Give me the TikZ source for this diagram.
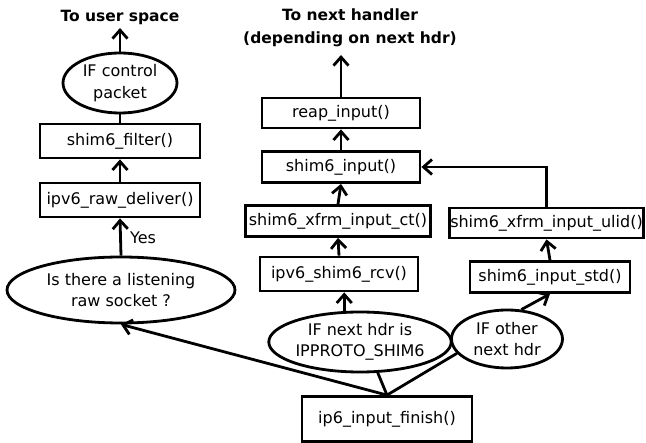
\documentclass[tikz,border=0pt]{standalone}
\usepackage{fontspec}
\setmainfont{DejaVu Sans}
\usetikzlibrary{arrows.meta,shapes.geometric}
\begin{document}
\begin{tikzpicture}[x=1pt,y=-1pt,
  line width=2.8pt,
  every node/.style={font=\fontsize{16}{21.5}\selectfont, inner sep=0pt},
  fbox/.style={draw, rectangle, align=center},
  cond/.style={draw, ellipse, align=center},
  title/.style={font=\fontsize{15.5}{23}\selectfont\bfseries, align=center},
  arr/.style={-{Straight Barb[length=8.5pt,width=15pt]}}]
\useasboundingbox (0,0) rectangle (646,443);

% left branch: raw socket delivery
\node[title] (usr) at (120,17) {To user space};
\coordinate (usrtip) at (120,28);
\node[cond, minimum width=114, minimum height=60] (ctrl) at (120,83) {IF control\\packet};
\node[fbox, minimum width=160, minimum height=34] (filt) at (120,141) {shim6\_filter()};
\node[fbox, minimum width=160, minimum height=34] (raw) at (120,200) {ipv6\_raw\_deliver()};
\node[cond, minimum width=228, minimum height=66] (q) at (121,290) {Is there a listening\\raw socket ?};
\node (yes) at (143,238) {Yes};

% middle branch: shim6 header processing
\node[title] (nxt) at (350,28) {To next handler\\(depending on next hdr)};
\coordinate (nxttip) at (341,55);
\node[fbox, minimum width=158, minimum height=30] (reap) at (341,113) {reap\_input()};
\node[fbox, minimum width=158, minimum height=31] (inp) at (341,167) {shim6\_input()};
\node[fbox, minimum width=185, minimum height=31] (ct) at (338,221) {shim6\_xfrm\_input\_ct()};
\node[fbox, minimum width=158, minimum height=34] (rcv) at (339,274) {ipv6\_shim6\_rcv()};
\node[cond, minimum width=154, minimum height=60] (ip) at (360,342) {IF next hdr is\\IPPROTO\_SHIM6};

% right branch: other next headers
\node[cond, minimum width=111, minimum height=58] (oth) at (507,339) {IF other\\next hdr};
\node[fbox, minimum width=160, minimum height=31] (std) at (550,277) {shim6\_input\_std()};
\node[fbox, minimum width=194, minimum height=30] (ulid) at (546.5,223) {shim6\_xfrm\_input\_ulid()};

% entry point
\node[fbox, minimum width=170, minimum height=45] (fin) at (387,419) {ip6\_input\_finish()};

% connectors
\draw[arr] (ctrl.north) -- (usrtip);
\draw (filt.north) -- (ctrl.south);
\draw[arr] (raw.north) -- (filt.south);
\draw[arr] (q.north) -- (raw.south);

\draw[arr] (reap.north) -- (nxttip);
\draw[arr] (inp.north) -- (reap.south);
\draw[arr] (ct.north) -- (inp.south);
\draw[arr] (rcv.north) -- (ct.south);
\draw[arr] (ip.117) -- (ip.117 |- rcv.south);

\draw[arr] (ulid.north) |- (inp.east);
\draw[arr] (std.north) -- (ulid.south);
\draw[arr] (oth.64) -- (std.south);

\draw[arr] (fin.north) -- (q.south);
\draw (fin.north) -- (ip.300);
\draw (fin.north) -- (oth.196);
\end{tikzpicture}
\end{document}
